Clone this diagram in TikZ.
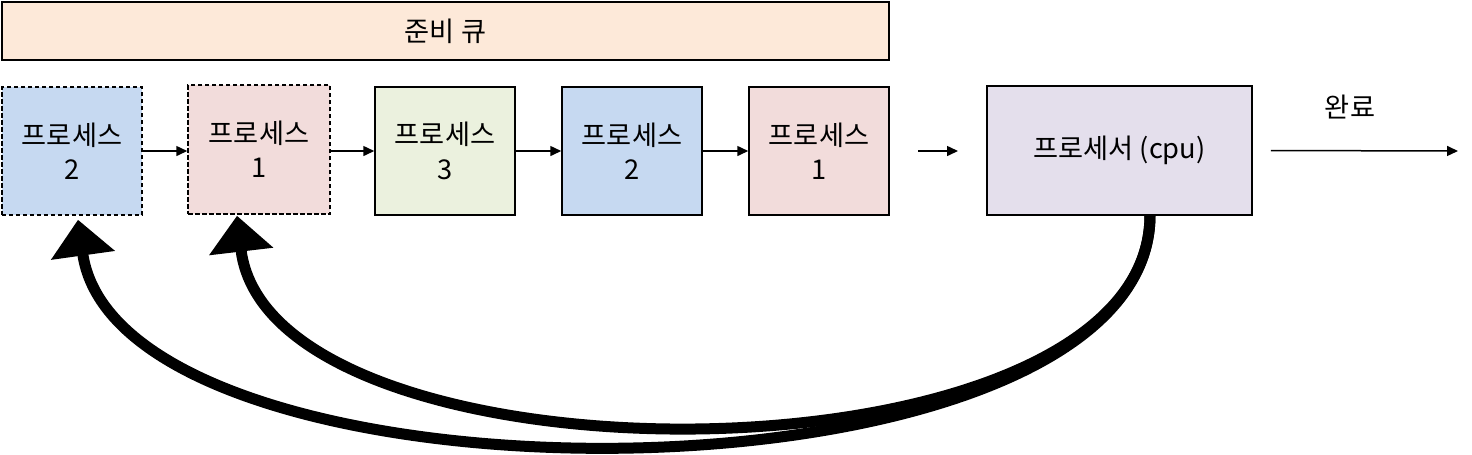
\documentclass[tikz,border=0pt]{standalone}
\usepackage{fontspec}
\setmainfont{Noto Sans CJK KR}
\usetikzlibrary{arrows.meta}
\usetikzlibrary{positioning}

\definecolor{queuefill}{HTML}{FDE9D9}
\definecolor{bluefill}{HTML}{C6D9F1}
\definecolor{pinkfill}{HTML}{F2DCDB}
\definecolor{greenfill}{HTML}{EBF1DE}
\definecolor{cpufill}{HTML}{E4DFEC}

\begin{document}
\begin{tikzpicture}[
    box/.style={
        rectangle,
        draw,
        line width=0.03cm,
        minimum width=2.8cm,
        minimum height=2.56cm,
        align=center,
        font=\fontsize{15.5}{19.5}\selectfont,
        },
    oldbox/.style={
        box,
        dash pattern=on 0.09cm off 0.05cm,
        },
    queue/.style={
        rectangle,
        draw,
        line width=0.04cm,
        fill=queuefill,
        minimum width=17.74cm,
        minimum height=1.16cm,
        font=\fontsize{15.5}{19.5}\selectfont,
        },
    mylabel/.style={
        font=\fontsize{15.5}{19.5}\selectfont
        },
    ArrowT/.style={
        line width=0.03cm,
        -{Triangle[length=0.22cm,width=0.2cm]},
        },
    ArrowB/.style={
        line width=0.22cm,
        -{Triangle[length=0.72cm,width=1.25cm]},
        },
    ]

    \useasboundingbox (0,0) rectangle (29.44,-9.08);

    \node [queue] (ready) at (8.91,-0.62) {준비 큐};

    \node [oldbox, fill=bluefill] (pA) at (1.44,-3.02) {프로세스\\2};
    \node [oldbox, fill=pinkfill, minimum width=2.84cm, minimum height=2.58cm] (pB) at (5.18,-2.99) {프로세스\\1};
    \node [box, fill=greenfill] (pC) at (8.9,-3.02) {프로세스\\3};
    \node [box, fill=bluefill] (pD) at (12.64,-3.02) {프로세스\\2};
    \node [box, fill=pinkfill] (pE) at (16.38,-3.02) {프로세스\\1};

    \node [box, fill=cpufill, minimum width=5.3cm, minimum height=2.58cm] (cpu) at (22.39,-3.01) {프로세서 (cpu)};

    \coordinate (qa) at (18.36,-3.02);
    \coordinate (qb) at (19.16,-3.02);
    \coordinate (done) at (29.16,-3.02);
    \coordinate (ret) at (23.0,-4.3);
    \node [mylabel] (donelbl) at (27.0,-2.14) {완료};

    \draw [ArrowT] (pA.east) -- (pA.east -| pB.west);
    \draw [ArrowT] (pB.east |- pC.west) -- (pC.west);
    \draw [ArrowT] (pC.east) -- (pD.west);
    \draw [ArrowT] (pD.east) -- (pE.west);
    \draw [ArrowT] (qa) -- (qb);
    \draw [ArrowT] ([xshift=0.36cm]cpu.east) -- (done);

    \draw [ArrowB] (ret) .. controls +(0,-6.06) and +(0.84,-6.02) .. ([xshift=0.12cm,yshift=-0.08cm]pA.south);
    \draw [ArrowB] (ret) .. controls +(0,-5.56) and +(0.66,-5.6) .. ([xshift=-0.44cm,yshift=-0.02cm]pB.south);

\end{tikzpicture}
\end{document}
